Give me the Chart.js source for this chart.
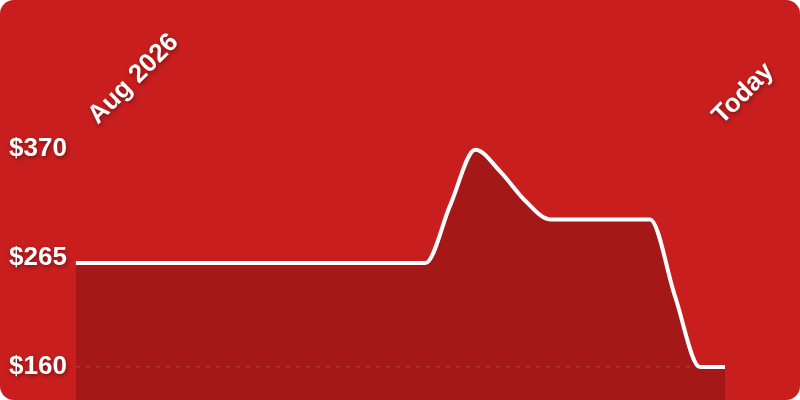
<!DOCTYPE html>
<html>
<head>
  <meta charset="UTF-8">
  <title>Price chart</title>
  <style>
    html, body { margin: 0; padding: 0; background: #fff; }
    .chartCard {
      width: 800px;
      height: 400px;
      background: #c91e1e;
      border-radius: 14px;
      overflow: hidden;
    }
    /* canvas runs a bit past the card so the fill reaches the bottom edge */
    #myChart { display: block; }
  </style>
</head>
<body>
  <div class="chartCard">
    <canvas id="myChart" width="800" height="425"></canvas>
  </div>
  <script src="https://cdn.jsdelivr.net/npm/chart.js"></script>
  <script>
// ---- data ----
const xLabels = ['Aug 2026', '', '', '', '', '', '', '', '', '', '', '', '', '',
  '', '', '', '', '', '', '', '', '', '', '', 'Today', ''];
const prices = [260, 260, 260, 260, 260, 260, 260, 260, 260, 260, 260, 260, 260, 260, 260,
  316, 369, 348, 320, 302, 302, 302, 302, 302, 228, 160, 160];
const yTicks = [160, 265, 370];

// labels get a soft drop shadow, drawn after the line (ticks z = 1)
const labelShadow = {
  id: 'labelShadow',
  afterDatasetsDraw(chart) {
    const ctx = chart.ctx;
    ctx.shadowColor = 'rgba(0, 0, 0, 0.4)';
    ctx.shadowBlur = 4;
    ctx.shadowOffsetX = 1;
    ctx.shadowOffsetY = 2;
  },
  afterDraw(chart) {
    const ctx = chart.ctx;
    ctx.shadowColor = 'transparent';
    ctx.shadowBlur = 0;
    ctx.shadowOffsetX = 0;
    ctx.shadowOffsetY = 0;
  }
};

const labelFont = { family: "'Liberation Sans', Arial, sans-serif", size: 26, weight: 'bold' };

const myChart = new Chart(document.getElementById('myChart'), {
  type: 'line',
  data: {
    labels: xLabels,
    datasets: [{
      data: prices,
      borderColor: '#ffffff',
      borderWidth: 4,
      backgroundColor: 'rgba(0, 0, 0, 0.18)',
      fill: 'start',
      pointRadius: 0,
      cubicInterpolationMode: 'monotone'
    }]
  },
  options: {
    responsive: false,
    animation: false,
    layout: { padding: { left: 0, right: 75, top: 0, bottom: 0 } },
    plugins: {
      legend: { display: false },
      tooltip: { enabled: false }
    },
    scales: {
      x: {
        position: 'top',
        grid: { display: false },
        border: { display: false },
        afterFit(scale) {
          scale.height = 130;
        },
        ticks: {
          z: 1,
          color: '#ffffff',
          font: labelFont,
          autoSkip: false,
          minRotation: 45,
          maxRotation: 45,
          padding: -9,
          labelOffset: 39
        }
      },
      y: {
        min: 128,
        max: 388,
        afterBuildTicks(scale) {
          scale.ticks = yTicks.map(v => ({ value: v }));
        },
        border: { display: false, dash: [4, 6] },
        grid: {
          drawTicks: false,
          lineWidth: 1.5,
          color: ctx => ctx.tick && ctx.tick.value === 160 ? 'rgba(255, 255, 255, 0.18)' : 'transparent'
        },
        ticks: {
          z: 1,
          color: '#ffffff',
          font: labelFont,
          padding: 9,
          callback: v => '$' + v
        }
      }
    }
  },
  plugins: [labelShadow]
});
  </script>
</body>
</html>
